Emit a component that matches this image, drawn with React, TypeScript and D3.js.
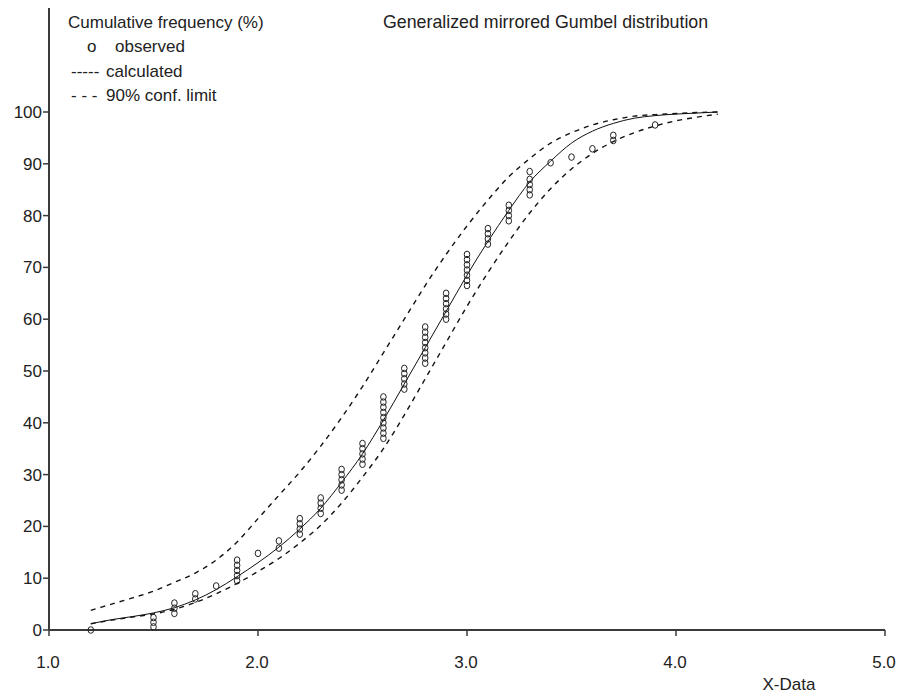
import React from "react";
import * as d3 from "d3";

// observed data: x class value and cumulative frequencies (%) of tied values
const observedX = [1.2, 1.5, 1.6, 1.7, 1.8, 1.9, 2.0, 2.1, 2.2, 2.3, 2.4, 2.5, 2.6, 2.7, 2.8, 2.9, 3.0, 3.1, 3.2, 3.3, 3.4, 3.5, 3.6, 3.7, 3.9];
const observedPct = [
  [0],
  [0.6, 1.5, 2.4],
  [3.2, 4.2, 5.2],
  [6.0, 7.0],
  [8.5],
  [9.5, 10.5, 11.5, 12.5, 13.5],
  [14.8],
  [15.8, 17.2],
  [18.5, 19.5, 20.5, 21.5],
  [22.5, 23.5, 24.5, 25.5],
  [27, 28, 29, 30, 31],
  [32, 33, 34, 35, 36],
  [37, 38, 39, 40, 41, 42, 43, 44, 45],
  [46.5, 47.5, 48.5, 49.5, 50.5],
  [51.5, 52.5, 53.5, 54.5, 55.5, 56.5, 57.5, 58.5],
  [60, 61, 62, 63, 64, 65],
  [66.5, 67.5, 68.5, 69.5, 70.5, 71.5, 72.5],
  [74.5, 75.5, 76.5, 77.5],
  [79, 80, 81, 82],
  [84, 85, 86, 87, 88.5],
  [90.2],
  [91.3],
  [92.9],
  [94.5, 95.5],
  [97.5],
];

const curveX = [1.2, 1.3, 1.4, 1.5, 1.6, 1.7, 1.8, 1.9, 2.0, 2.1, 2.2, 2.3, 2.4, 2.5, 2.6, 2.7, 2.8, 2.9, 3.0, 3.1, 3.2, 3.3, 3.4, 3.5, 3.6, 3.7, 3.8, 3.9, 4.0, 4.1, 4.2];
const calculated = [1.2, 2.0, 2.6, 3.3, 4.3, 5.8, 7.8, 10.3, 13.0, 16.0, 19.5, 23.5, 28.5, 34.0, 40.5, 47.5, 54.5, 61.5, 68.5, 75.0, 81.0, 86.5, 90.5, 94.0, 96.3, 97.8, 98.8, 99.3, 99.6, 99.8, 100];
const upperLimit = [3.8, 5.0, 6.2, 7.5, 9.2, 11.0, 13.5, 17.0, 21.5, 26.0, 30.5, 35.5, 41.0, 47.0, 53.5, 60.0, 66.5, 72.5, 78.0, 83.0, 87.5, 91.0, 94.0, 96.0, 97.5, 98.5, 99.2, 99.5, 99.7, 99.9, 100];
const lowerLimit = [1.2, 1.9, 2.5, 3.1, 4.0, 5.3, 7.0, 9.0, 11.3, 13.8, 16.8, 20.2, 24.5, 29.5, 35.0, 41.5, 48.5, 55.5, 62.5, 69.0, 75.0, 80.5, 85.2, 89.0, 92.0, 94.3, 96.0, 97.3, 98.3, 99.0, 99.6];

const xTicks = [1, 2, 3, 4, 5];
const yTicks = [0, 10, 20, 30, 40, 50, 60, 70, 80, 90, 100];

const font = "'Liberation Sans', Arial, sans-serif";
const ink = "#222";

export default function App() {
  const x = d3.scaleLinear().domain([1, 5]).range([49, 885]);
  const y = d3.scaleLinear().domain([0, 100]).range([630, 112]);

  const line = d3
    .line<number>()
    .x((d, i) => x(curveX[i]))
    .y((d) => y(d))
    .curve(d3.curveMonotoneX);

  const points: { cx: number; cy: number }[] = [];
  observedX.forEach((xv, i) => {
    observedPct[i].forEach((p) => points.push({ cx: x(xv), cy: y(p) }));
  });

  return (
    <svg
      width={899}
      height={694}
      style={{ position: "absolute", left: 0, top: 0, background: "#fff" }}
      fontFamily={font}
    >
      {/* axes */}
      <line x1={x(1)} x2={x(1)} y1={8} y2={y(0)} stroke="#3a3a3a" strokeWidth={2} />
      <line x1={x(1)} x2={x(5)} y1={y(0)} y2={y(0)} stroke="#3a3a3a" strokeWidth={2} />
      {yTicks.map((t) => (
        <g key={"y" + t}>
          <line x1={x(1) - 6} x2={x(1)} y1={y(t)} y2={y(t)} stroke="#3a3a3a" strokeWidth={1.5} />
          <text x={x(1) - 7} y={y(t)} dy="0.35em" textAnchor="end" fontSize={17} fill={ink}>
            {t}
          </text>
        </g>
      ))}
      {xTicks.map((t) => (
        <g key={"x" + t}>
          <line x1={x(t)} x2={x(t)} y1={y(0)} y2={y(0) + 6} stroke="#3a3a3a" strokeWidth={1.5} />
          <text x={x(t) - 1} y={668} textAnchor="middle" fontSize={17} fill={ink}>
            {d3.format(".1f")(t)}
          </text>
        </g>
      ))}
      <text x={789} y={690} textAnchor="middle" fontSize={17} fill={ink}>
        X-Data
      </text>

      {/* curves */}
      <path d={line(upperLimit) || ""} fill="none" stroke="#111" strokeWidth={1.4} strokeDasharray="5,5" />
      <path d={line(lowerLimit) || ""} fill="none" stroke="#111" strokeWidth={1.4} strokeDasharray="5,5" />
      <path d={line(calculated) || ""} fill="none" stroke="#111" strokeWidth={1} />

      {/* observed */}
      {points.map((p, i) => (
        <ellipse key={i} cx={p.cx} cy={p.cy} rx={2.8} ry={3.3} fill="none" stroke="#222" strokeWidth={1} />
      ))}

      {/* legend and title */}
      <text x={68} y={28} fontSize={17} fill={ink}>Cumulative frequency (%)</text>
      <text x={87} y={52} fontSize={17} fill={ink}>o</text>
      <text x={115} y={52} fontSize={17} fill={ink}>observed</text>
      <text x={71} y={77} fontSize={17} fill={ink}>-----</text>
      <text x={106} y={77} fontSize={17} fill={ink}>calculated</text>
      <text x={71} y={101} fontSize={17} fill={ink}>- - -</text>
      <text x={106} y={101} fontSize={17} fill={ink}>90% conf. limit</text>
      <text x={383} y={28} fontSize={17.8} fill={ink}>Generalized mirrored Gumbel distribution</text>
    </svg>
  );
}
